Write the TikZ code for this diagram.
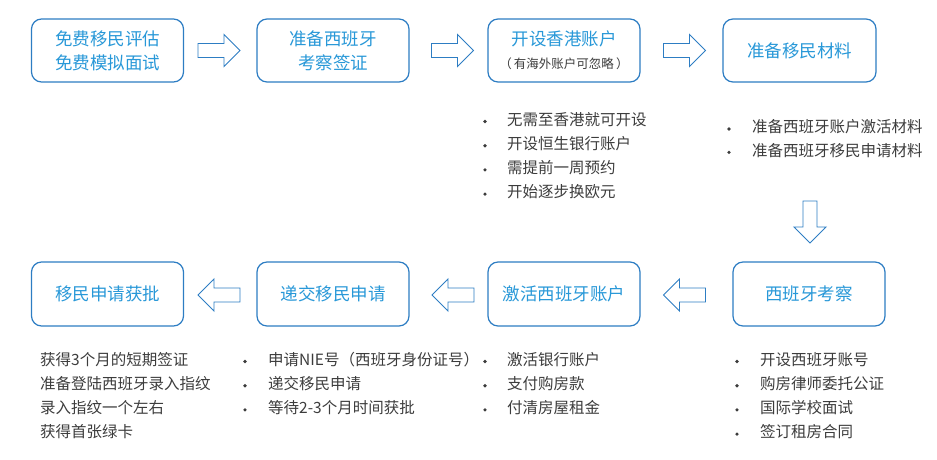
\documentclass[tikz,border=0pt]{standalone}
\usepackage{fontspec}
\setmainfont{Noto Sans CJK SC}
\definecolor{boxblue}{RGB}{45,125,195}
\definecolor{titleblue}{RGB}{40,152,216}
\definecolor{itemgray}{RGB}{60,60,60}
\tikzset{
  stepbox/.style={draw=boxblue, line width=1.2pt, rounded corners=10pt, fill=white,
    minimum width=152pt, minimum height=63pt, inner sep=0pt, align=center,
    text=titleblue, font=\fontsize{17.5}{24}\selectfont},
  itemtext/.style={anchor=west, inner sep=0pt, text=itemgray,
    font=\fontsize{15.5}{18}\selectfont, text height=0.88em, text depth=0.12em},
  bulletmark/.style={circle, fill=itemgray, inner sep=0pt, minimum size=3.6pt},
  blockarrow/.style={draw=boxblue, line width=0.9pt, fill=white, line join=miter},
  pics/rblk/.style={code={
    \draw[blockarrow] (-21,-7) -- (5,-7) -- (5,-16) -- (21,0) -- (5,16) -- (5,7) -- (-21,7) -- cycle;
  }}
}
\begin{document}
\begin{tikzpicture}[x=1pt, y=-1pt]
\useasboundingbox (0,0) rectangle (937,459);

% top row boxes
\node[stepbox] (b1) at (107.5,50.5) {免费移民评估\\免费模拟面试};
\node[stepbox] (b2) at (333,50.5) {准备西班牙\\考察签证};
\node[stepbox] (b3) at (564,50.5) {开设香港账户\\[-1pt]{\fontsize{12.5}{14}\selectfont\color{itemgray}（\,有海外账户可忽略\,）}};
\node[stepbox, minimum width=153pt] (b4) at (799.5,50.5) {准备移民材料};

% bottom row boxes
\node[stepbox, minimum height=64pt] (b5) at (107.5,294) {移民申请获批};
\node[stepbox, minimum height=64pt] (b6) at (333,294) {递交移民申请};
\node[stepbox, minimum height=64pt] (b7) at (564,294) {激活西班牙账户};
\node[stepbox, minimum height=64pt] (b8) at (809,294) {西班牙考察};

% block arrows
\pic at (219,50.5) {rblk};
\pic at (452.5,50.5) {rblk};
\pic at (684.5,50.5) {rblk};
\pic[rotate=-90] at (810,222) {rblk};
\pic[rotate=180] at (684.5,295) {rblk};
\pic[rotate=180] at (453,295) {rblk};
\pic[rotate=180] at (219,295) {rblk};

% list under b3
\foreach \t [count=\i] in {无需至香港就可开设,开设恒生银行账户,需提前一周预约,开始逐步换欧元}{
  \node[bulletmark] (ba\i) at (485,{121.5+24.2*(\i-1)}) {};
  \node[itemtext] (ta\i) at (507,{121.5+24.2*(\i-1)}) {\t};
}
% list under b4
\foreach \t [count=\i] in {准备西班牙账户激活材料,准备西班牙移民申请材料}{
  \node[bulletmark] (bb\i) at (729,{129+23.4*(\i-1)}) {};
  \node[itemtext] (tb\i) at (752,{129+23.4*(\i-1)}) {\t};
}
% list under b5 (no bullets)
\foreach \t [count=\i] in {获得3个月的短期签证,准备登陆西班牙录入指纹,录入指纹一个左右,获得首张绿卡}{
  \node[itemtext] (tc\i) at (40,{361.5+24.2*(\i-1)}) {\t};
}
% list under b6
\foreach \t [count=\i] in {申请NIE号（西班牙身份证号）,递交移民申请,等待2-3个月时间获批}{
  \node[bulletmark] (bd\i) at (245,{361.5+24.2*(\i-1)}) {};
  \node[itemtext] (td\i) at (268,{361.5+24.2*(\i-1)}) {\t};
}
% list under b7
\foreach \t [count=\i] in {激活银行账户,支付购房款,付清房屋租金}{
  \node[bulletmark] (be\i) at (485,{361.5+24.2*(\i-1)}) {};
  \node[itemtext] (te\i) at (507,{361.5+24.2*(\i-1)}) {\t};
}
% list under b8
\foreach \t [count=\i] in {开设西班牙账号,购房律师委托公证,国际学校面试,签订租房合同}{
  \node[bulletmark] (bf\i) at (737,{361.5+24.2*(\i-1)}) {};
  \node[itemtext] (tf\i) at (760,{361.5+24.2*(\i-1)}) {\t};
}
\end{tikzpicture}
\end{document}
